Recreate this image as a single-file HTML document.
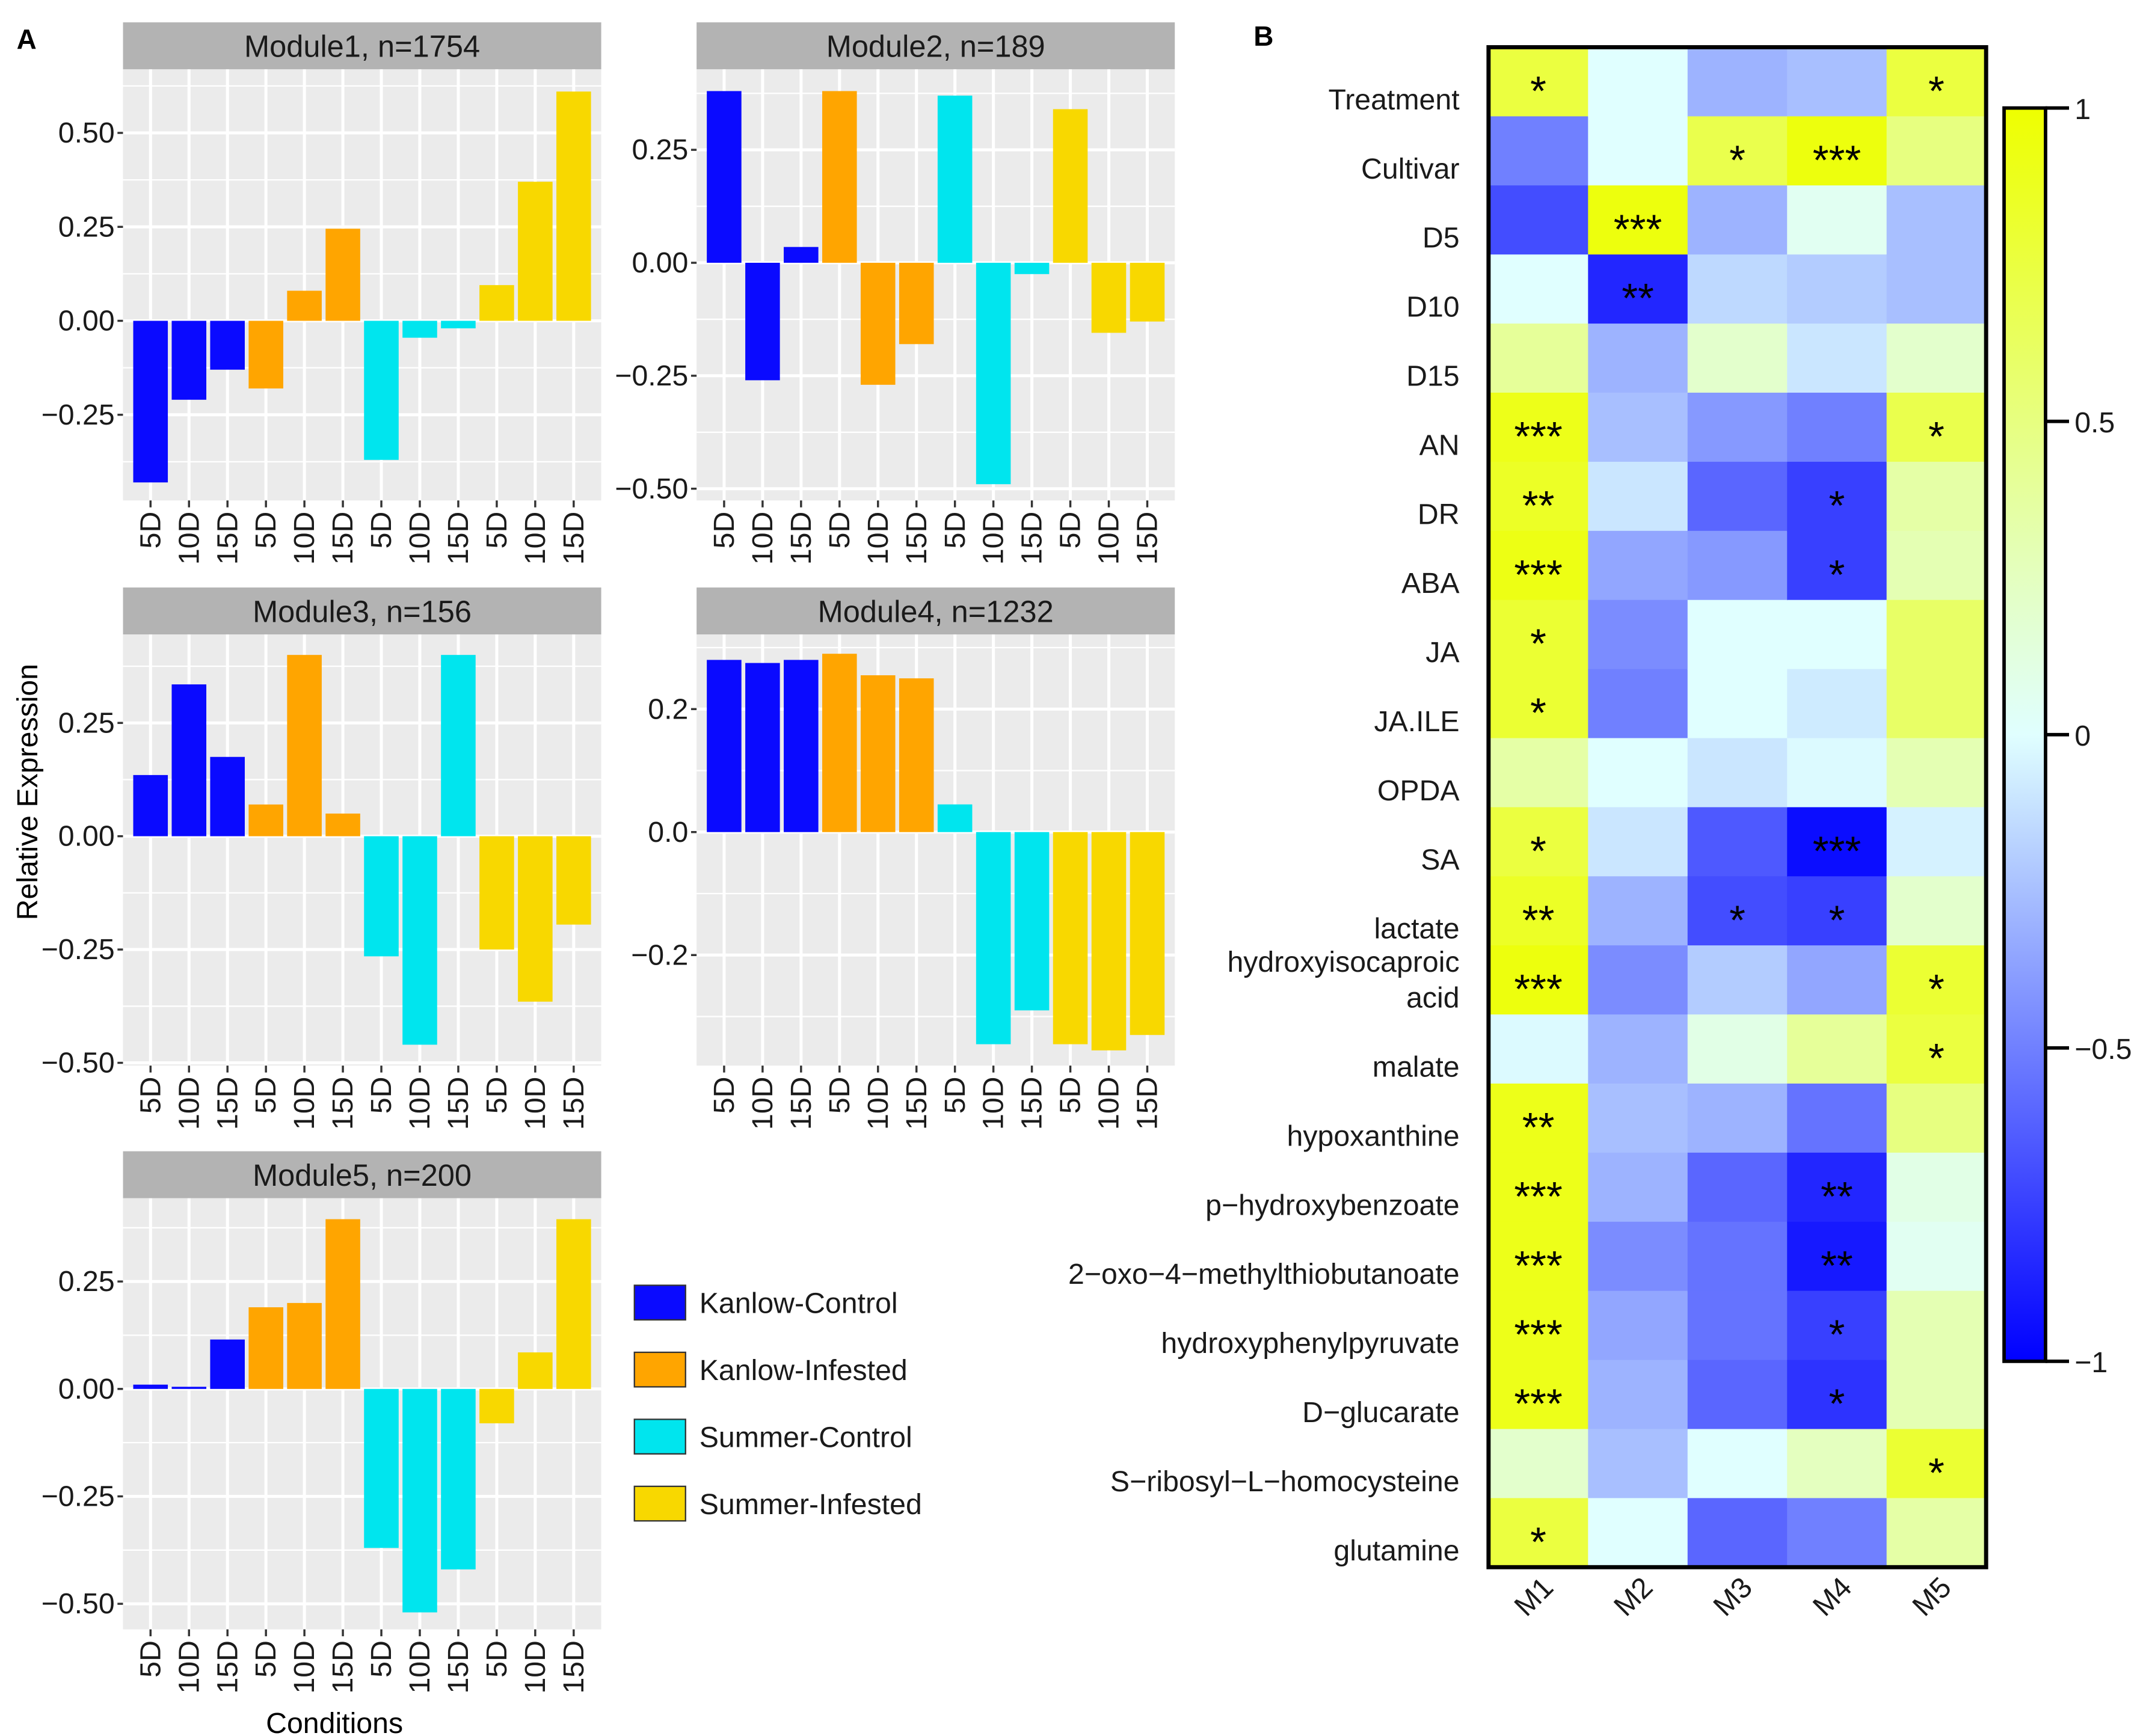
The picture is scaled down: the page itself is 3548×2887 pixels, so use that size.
<!DOCTYPE html>
<html><head><meta charset="utf-8"><style>
html,body{margin:0;padding:0;background:#fff}
svg{display:block}
text{font-family:"Liberation Sans",Arial,sans-serif}
</style></head><body>
<svg id="fig" width="3548" height="2887" viewBox="0 0 1544 1256" xmlns="http://www.w3.org/2000/svg">
<rect width="1544" height="1256" fill="#fff"/>
<text x="12" y="35" font-size="20" font-weight="bold">A</text>
<text x="907" y="33" font-size="20" font-weight="bold">B</text>
<text transform="translate(27,573) rotate(-90)" text-anchor="middle" font-size="21">Relative Expression</text>
<text x="242" y="1254" text-anchor="middle" font-size="21">Conditions</text>
<g id="panelA"></g>
<g id="legend"></g>
<g id="panelB"></g>
</svg>
<script>
const NS="http://www.w3.org/2000/svg";
const conditions=["5D","10D","15D","5D","10D","15D","5D","10D","15D","5D","10D","15D"];
const groups=["Kanlow-Control","Kanlow-Infested","Summer-Control","Summer-Infested"];
const groupColors=["#0a0aff","#ffa500","#00e5ee","#f8d800"];
const m1=[-0.43,-0.21,-0.13,-0.18,0.08,0.245,-0.37,-0.045,-0.02,0.095,0.37,0.61];
const m2=[0.38,-0.26,0.035,0.38,-0.27,-0.18,0.37,-0.49,-0.025,0.34,-0.155,-0.13];
const m3=[0.135,0.335,0.175,0.07,0.40,0.05,-0.265,-0.46,0.40,-0.25,-0.365,-0.195];
const m4=[0.28,0.275,0.28,0.29,0.255,0.25,0.045,-0.345,-0.29,-0.345,-0.355,-0.33];
const m5=[0.01,0.005,0.115,0.19,0.20,0.395,-0.37,-0.52,-0.42,-0.08,0.085,0.395];
const moduleTitles=["Module1, n=1754","Module2, n=189","Module3, n=156","Module4, n=1232","Module5, n=200"];
const ticks1=[-0.25,0,0.25,0.5], ticks2=[-0.5,-0.25,0,0.25], ticks3=[-0.5,-0.25,0,0.25], ticks4=[-0.2,0,0.2], ticks5=[-0.5,-0.25,0,0.25];
const tickLabels1=["−0.25","0.00","0.25","0.50"], tickLabels2=["−0.50","−0.25","0.00","0.25"], tickLabels3=tickLabels2, tickLabels4=["−0.2","0.0","0.2"], tickLabels5=tickLabels2;

function el(tag,attrs,parent){const e=document.createElementNS(NS,tag);for(const k in attrs)e.setAttribute(k,attrs[k]);parent.appendChild(e);return e;}

const panels=[
 {vals:m1,ticks:ticks1,labs:tickLabels1,x:89,top:16,zero:232,scale:272},
 {vals:m2,ticks:ticks2,labs:tickLabels2,x:504,top:16,zero:190,scale:327},
 {vals:m3,ticks:ticks3,labs:tickLabels3,x:89,top:425,zero:605,scale:328},
 {vals:m4,ticks:ticks4,labs:tickLabels4,x:504,top:425,zero:602,scale:445},
 {vals:m5,ticks:ticks5,labs:tickLabels5,x:89,top:833,zero:1005,scale:311}
];
const A=document.getElementById('panelA');
panels.forEach((p,pi)=>{
  const g=el('g',{},A);
  
  
  const W=346, ptop=p.top+34, pbot=ptop+312;
  const strip=el('rect',{x:p.x,y:p.top,width:W,height:34,fill:'#b3b3b3'},g);
  
  
  const st=el('text',{x:p.x+W/2,y:p.top+25,'text-anchor':'middle','font-size':22,fill:'#1a1a1a'},g);
  st.textContent=moduleTitles[pi];
  
  
  el('rect',{x:p.x,y:ptop,width:W,height:312,fill:'#ebebeb'},g);
  const yv=v=>p.zero-v*p.scale;
  const step=p.ticks[1]-p.ticks[0];
  for(let t=p.ticks[0]-step*2;t<=p.ticks[p.ticks.length-1]+step*2;t+=step/2){
    const y=yv(t); if(y<ptop||y>pbot)continue;
    const major=Math.abs(Math.round(t/step)*step-t)<1e-6;
    el('line',{x1:p.x,x2:p.x+W,y1:y,y2:y,stroke:'#fff','stroke-width':major?2.2:1},g);
  }
  const band=(W-12)/12; const xc=i=>p.x+6+band*(i+0.5);
  conditions.forEach((c,i)=>el('line',{x1:xc(i),x2:xc(i),y1:ptop,y2:pbot,stroke:'#fff','stroke-width':2.2},g));
  p.vals.forEach((v,i)=>{
    const y0=yv(0), y1=yv(v);
    const r=el('rect',{x:xc(i)-band*0.45,y:Math.min(y0,y1),width:band*0.9,height:Math.max(1,Math.abs(y1-y0)),fill:groupColors[Math.floor(i/3)]},g);
    
    
  });
  p.ticks.forEach((t,i)=>{
    const y=yv(t);
    el('line',{x1:p.x-4,x2:p.x,y1:y,y2:y,stroke:'#333','stroke-width':1.5},g);
    const tx=el('text',{x:p.x-6,y:y+7,'text-anchor':'end','font-size':21,fill:'#1a1a1a'},g);
    tx.textContent=p.labs[i];
    
    
  });
  conditions.forEach((c,i)=>{
    el('line',{x1:xc(i),x2:xc(i),y1:pbot,y2:pbot+5,stroke:'#333','stroke-width':1.5},g);
    const tx=el('text',{transform:`translate(${xc(i)+7},${pbot+8}) rotate(-90)`,'text-anchor':'end','font-size':21,fill:'#1a1a1a'},g);
    tx.textContent=c;
    
    
  });
});
const L=document.getElementById('legend');
groups.forEach((gname,i)=>{
  const y=930+i*48.5;
  const r=el('rect',{x:459,y:y,width:37,height:25,fill:groupColors[i],stroke:'#333','stroke-width':1},L);
  
  
  const t=el('text',{x:506,y:y+20,'font-size':21,fill:'#1a1a1a'},L);
  t.textContent=gname;
  
  
});

const rowLabels=["Treatment","Cultivar","D5","D10","D15","AN","DR","ABA","JA","JA.ILE","OPDA","SA","lactate","hydroxyisocaproic|acid","malate","hypoxanthine","p−hydroxybenzoate","2−oxo−4−methylthiobutanoate","hydroxyphenylpyruvate","D−glucarate","S−ribosyl−L−homocysteine","glutamine"];
const colLabels=["M1","M2","M3","M4","M5"];
const corrM1=[0.75,-0.5,-0.7,0.0,0.4,0.9,0.85,0.92,0.8,0.8,0.35,0.75,0.85,0.95,-0.02,0.9,0.9,0.9,0.9,0.9,0.2,0.75];
const corrM2=[0.0,0.0,0.95,-0.85,-0.3,-0.25,-0.1,-0.35,-0.45,-0.5,0.0,-0.1,-0.3,-0.45,-0.3,-0.25,-0.3,-0.45,-0.35,-0.3,-0.25,0.0];
const corrM3=[-0.3,0.7,-0.3,-0.15,0.2,-0.4,-0.6,-0.4,0.0,0.0,-0.1,-0.65,-0.7,-0.2,0.1,-0.3,-0.6,-0.55,-0.55,-0.6,0.0,-0.6];
const corrM4=[-0.25,0.95,0.05,-0.2,-0.1,-0.5,-0.75,-0.75,0.0,-0.08,-0.02,-0.95,-0.75,-0.35,0.4,-0.55,-0.85,-0.9,-0.75,-0.8,0.25,-0.5];
const corrM5=[0.75,0.5,-0.25,-0.25,0.2,0.7,0.35,0.3,0.6,0.6,0.3,-0.05,0.2,0.8,0.75,0.5,0.1,0.05,0.3,0.3,0.8,0.35];
const starsM1=["*","","","","","***","**","***","*","*","","*","**","***","","**","***","***","***","***","","*"];
const starsM2=["","","***","**","","","","","","","","","","","","","","","","","",""];
const starsM3=["","*","","","","","","","","","","","*","","","","","","","","",""];
const starsM4=["","***","","","","","*","*","","","","***","*","","","","**","**","*","*","",""];
const starsM5=["*","","","","","*","","","","","","","","*","*","","","","","","*",""];
const corrCols=[corrM1,corrM2,corrM3,corrM4,corrM5];
const starCols=[starsM1,starsM2,starsM3,starsM4,starsM5];
const cbTicks=[1,0.5,0,-0.5,-1], cbLabels=["1","0.5","0","−0.5","−1"];

function colorOf(v){
  let r,g,b;
  if(v<0){const t=v+1;r=224*t;g=255*t;b=255;}
  else{const t=v;r=224+14*t;g=255;b=255*(1-t);}
  return `rgb(${Math.round(r)},${Math.round(g)},${Math.round(b)})`;
}
const B=document.getElementById('panelB');
const hx=1077,hy=34,cw=72,rh=50;
const cx=j=>hx+cw*j, ry=i=>hy+rh*i;
corrCols.forEach((col,j)=>{
  col.forEach((v,i)=>{
    const r=el('rect',{x:cx(j),y:ry(i),width:cw+0.5,height:rh+0.5,fill:colorOf(v)},B);
    
    
    const s=starCols[j][i];
    if(s){const t=el('text',{x:cx(j)+cw/2,y:ry(i)+rh/2+17,'text-anchor':'middle','font-size':30,fill:'#000'},B);t.textContent=s;
      
      }
  });
});
const frame=el('rect',{x:hx,y:hy,width:cw*5,height:rh*22,fill:'none',stroke:'#000','stroke-width':3},B);


rowLabels.forEach((lab,i)=>{
  const parts=lab.split('|');
  parts.forEach((pt,k)=>{
    const yy=parts.length>1? ry(i)+rh/2+7+(k===0?-13:13) : ry(i)+rh/2+20;
    const t=el('text',{x:1056,y:yy,'text-anchor':'end','font-size':21,fill:'#1a1a1a'},B);
    t.textContent=pt;
    
    
  });
});
colLabels.forEach((c,j)=>{
  const t=el('text',{transform:`translate(${cx(j)+cw/2+12},${hy+rh*22+16}) rotate(-45)`,'text-anchor':'end','font-size':21,fill:'#1a1a1a'},B);
  t.textContent=c;
  
  
});
const defs=el('defs',{},B);
const lg=el('linearGradient',{id:'cbg',x1:0,y1:0,x2:0,y2:1},defs);
[1,0.5,0,-0.5,-1].forEach((v,k)=>el('stop',{offset:k/4,'stop-color':colorOf(v)},lg));
const cbTop=78,cbBot=985;
const cb=el('rect',{x:1450,y:cbTop,width:30,height:cbBot-cbTop,fill:'url(#cbg)',stroke:'#000','stroke-width':2.5},B);


const cbY=v=>cbTop+(1-v)/2*(cbBot-cbTop);
cbTicks.forEach((v,k)=>{
  el('line',{x1:1480,x2:1497,y1:cbY(v),y2:cbY(v),stroke:'#000','stroke-width':2.5},B);
  const t=el('text',{x:1501,y:cbY(v)+8,'font-size':21,fill:'#1a1a1a'},B);
  t.textContent=cbLabels[k];
  
  
});
</script>
</body></html>
